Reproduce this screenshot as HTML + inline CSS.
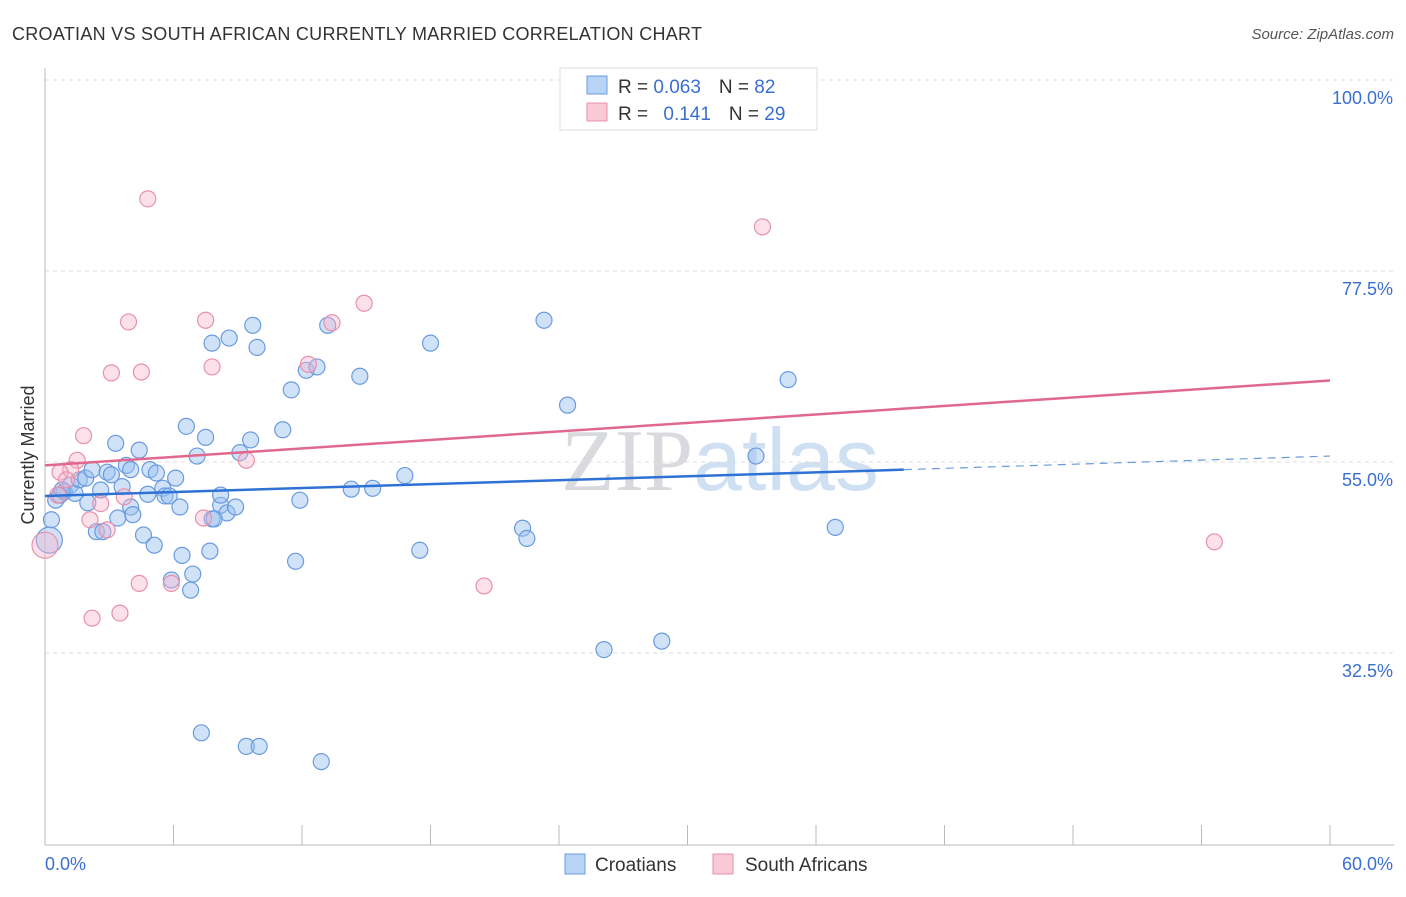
<!DOCTYPE html>
<html><head><meta charset="utf-8"><style>
body{margin:0;background:#fff;font-family:"Liberation Sans",sans-serif;}
svg text{font-family:"Liberation Sans",sans-serif;}
</style></head><body>
<svg id="c" width="1406" height="892" xmlns="http://www.w3.org/2000/svg">
<text x="12" y="40" font-size="18" fill="#333" textLength="690">CROATIAN VS SOUTH AFRICAN CURRENTLY MARRIED CORRELATION CHART</text>
<text x="1394" y="39" font-size="15" fill="#555" text-anchor="end" font-style="italic">Source: ZipAtlas.com</text>
<text x="720" y="490" font-size="88" fill="#e4e8ee" text-anchor="middle"><tspan font-family="Liberation Serif" fill="#d8dadd">ZIP</tspan><tspan fill="#d0e0f3">atlas</tspan></text>
<text transform="translate(34,455) rotate(-90)" font-size="18" fill="#333" text-anchor="middle">Currently Married</text>
<g id="grid"></g><g id="pts"></g><g id="lines"></g>
<g>
<rect x="560" y="68" width="257" height="62" fill="#fff" stroke="#ddd"/>
<rect x="587" y="76" width="20" height="18" fill="#b7d3f5" stroke="#6a9be0"/>
<rect x="587" y="103" width="20" height="18" fill="#fac9d8" stroke="#e890ac"/>
<text x="618" y="93" font-size="19" fill="#333">R = <tspan fill="#3a6fd0">0.063</tspan><tspan dx="18">N = </tspan><tspan fill="#3a6fd0">82</tspan></text>
<text x="618" y="120" font-size="19" fill="#333">R = <tspan dx="10" fill="#3a6fd0">0.141</tspan><tspan dx="18">N = </tspan><tspan fill="#3a6fd0">29</tspan></text>
</g>
<g>
<rect x="565" y="854" width="20" height="20" fill="#b7d3f5" stroke="#6a9be0"/>
<text x="595" y="871" font-size="19" fill="#333">Croatians</text>
<rect x="713" y="854" width="20" height="20" fill="#fac9d8" stroke="#e890ac"/>
<text x="745" y="871" font-size="19" fill="#333">South Africans</text>
</g>
</svg>
<script>
const yTicks=[100,77.5,55,32.5];
const yTickLabels=["100.0%","77.5%","55.0%","32.5%"];
const xEndLabels=["0.0%","60.0%"];
const blueX=[0.3,0.2,0.5,0.7,0.9,1.2,1.4,1.6,1.9,2.0,2.2,2.4,2.6,2.7,2.9,3.1,3.3,3.4,3.6,3.8,4.0,4.1,4.4,4.6,4.8,4.9,5.1,5.2,5.5,5.6,5.8,6.1,6.3,6.4,6.6,6.8,6.9,7.1,7.5,7.7,7.8,7.8,8.2,8.2,8.5,8.6,8.9,9.1,9.6,9.7,9.9,11.1,11.5,11.7,11.9,12.2,12.7,13.2,14.3,14.7,15.3,16.8,17.5,18.0,22.3,22.5,23.3,24.4,26.1,28.8,33.2,34.7,36.9,7.3,9.4,10.0,12.9,5.9,7.9,4.0,0.8];
const blueY=[48.2,45.8,50.5,51.1,51.5,52.3,51.3,52.9,53.1,50.2,54.1,46.8,51.7,46.8,53.8,53.5,57.2,48.4,52.1,54.6,49.7,48.8,56.4,46.4,51.2,54.1,45.2,53.7,51.9,51.0,51.0,53.1,49.7,44.0,59.2,39.9,41.8,55.7,57.9,44.5,69.0,48.3,49.9,51.1,49.0,69.6,49.7,56.1,57.6,71.1,68.5,58.8,63.5,43.3,50.5,65.8,66.2,71.1,51.8,65.1,51.9,53.4,44.6,69.0,47.2,46.0,71.7,61.7,32.9,33.9,55.7,64.7,47.3,23.1,21.5,21.5,19.7,41.1,48.3,54.1,51.7];
const pinkX=[4.8,33.5,14.9,3.9,7.5,13.4,3.1,4.5,7.8,12.3,1.8,1.5,1.2,0.7,1.0,0.6,3.7,2.6,2.1,2.9,9.4,7.4,0,4.4,5.9,2.2,3.5,20.5,54.6];
const pinkY=[86.0,82.7,73.7,71.5,71.7,71.4,65.5,65.6,66.2,66.5,58.1,55.2,54.1,53.8,52.9,51.1,50.9,50.1,48.2,47.0,55.2,48.4,45.2,40.7,40.7,36.6,37.2,40.4,45.6];
const blueTrend=[[0,51.0],[40.1,54.1],[60,55.7]];
const pinkTrend=[[0,54.6],[60,64.6]];
const X=v=>45+v/60*1285, Y=v=>80+(100-v)/22.5*191;
const NS="http://www.w3.org/2000/svg";
function mk(t,a,p){const e=document.createElementNS(NS,t);for(const k in a)e.setAttribute(k,a[k]);p.appendChild(e);return e;}
const g=document.getElementById('grid');
yTicks.forEach((v,i)=>{
 const l=mk('line',{x1:45,x2:1394,y1:Y(v),y2:Y(v),stroke:'#ddd','stroke-dasharray':'4,4'},g);
 
 
 const t=mk('text',{x:1393,y:Y(v)+24,'font-size':18,fill:'#3a6fd0','text-anchor':'end'},g);t.textContent=yTickLabels[i];
 
 
});
mk('line',{x1:45,x2:45,y1:68,y2:845,stroke:'#bbb'},g);
mk('line',{x1:45,x2:1394,y1:845,y2:845,stroke:'#bbb'},g);
for(let i=0;i<=10;i++){mk('line',{x1:X(i*6),x2:X(i*6),y1:825,y2:845,stroke:'#bbb'},g);}
[[0,45,'start'],[60,1393,'end']].forEach((d,i)=>{const t=mk('text',{x:d[1],y:870,'font-size':18,fill:'#3a6fd0','text-anchor':d[2]},g);t.textContent=xEndLabels[i];
 
 });
const p=document.getElementById('pts');
blueX.forEach((x,i)=>{const c=mk('circle',{cx:X(x),cy:Y(blueY[i]),r:x<0.3?13:8,fill:'rgba(150,190,240,0.45)',stroke:'#6a9be0','stroke-width':1.2},p);
 
 });
pinkX.forEach((x,i)=>{const c=mk('circle',{cx:X(x),cy:Y(pinkY[i]),r:x<0.3?13:8,fill:'rgba(248,180,205,0.4)',stroke:'#e890ac','stroke-width':1.2},p);
 
 });
const L=document.getElementById('lines');
const b1=mk('line',{x1:X(blueTrend[0][0]),y1:Y(blueTrend[0][1]),x2:X(blueTrend[1][0]),y2:Y(blueTrend[1][1]),stroke:'#2f72d6','stroke-width':2.5},L);


const b2=mk('line',{x1:X(blueTrend[1][0]),y1:Y(blueTrend[1][1]),x2:X(blueTrend[2][0]),y2:Y(blueTrend[2][1]),stroke:'#6a9be0','stroke-width':1.2,'stroke-dasharray':'8,6'},L);


const p1=mk('line',{x1:X(pinkTrend[0][0]),y1:Y(pinkTrend[0][1]),x2:X(pinkTrend[1][0]),y2:Y(pinkTrend[1][1]),stroke:'#e0688f','stroke-width':2.5},L);


</script>
</body></html>
